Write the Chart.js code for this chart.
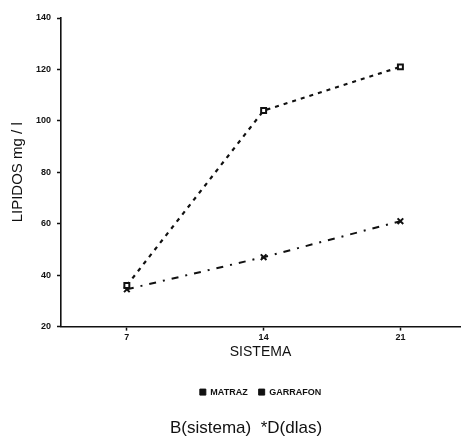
<!DOCTYPE html>
<html>
<head>
<meta charset="utf-8">
<script src="https://cdn.jsdelivr.net/npm/chart.js@4/dist/chart.umd.min.js"></script>
<style>
  html, body { margin: 0; padding: 0; background: #ffffff; }
  #wrap { position: relative; width: 467px; height: 440px; }
</style>
</head>
<body>
<div id="wrap"><canvas id="c" width="467" height="440"></canvas></div>
<script>
const dias = [7, 14, 21];
const matraz = [36, 104, 121];
const garrafon = [34.5, 47, 61];
const yTicks = [20, 40, 60, 80, 100, 120, 140];
const seriesNames = ['MATRAZ', 'GARRAFON'];
const xTitle = 'SISTEMA';
const yTitle = 'LIPIDOS mg / l';
const caption = 'B(sistema)  *D(dlas)';

const ink = '#111111';

new Chart(document.getElementById('c'), {
  type: 'line',
  data: {
    datasets: [
      {
        label: seriesNames[0],
        data: dias.map((d, i) => ({ x: d, y: matraz[i] })),
        borderColor: ink,
        backgroundColor: '#ffffff',
        borderWidth: 2.2,
        borderDash: [4, 5],
        pointStyle: 'rect',
        pointRadius: 3.5,
        pointBorderWidth: 2,
        pointBorderColor: ink,
        pointBackgroundColor: '#ffffff',
        tension: 0
      },
      {
        label: seriesNames[1],
        data: dias.map((d, i) => ({ x: d, y: garrafon[i] })),
        borderColor: ink,
        backgroundColor: '#ffffff',
        borderWidth: 2,
        borderDash: [7, 7, 2, 7],
        pointStyle: 'crossRot',
        pointRadius: 4,
        pointBorderWidth: 2,
        pointBorderColor: ink,
        tension: 0
      }
    ]
  },
  options: {
    responsive: false,
    animation: false,
    devicePixelRatio: 1,
    layout: { padding: { left: 32, right: 7, top: 18, bottom: 1 } },
    scales: {
      x: {
        type: 'linear',
        min: 3.63,
        max: 24.05,
        afterBuildTicks: (s) => { s.ticks = dias.map(v => ({ value: v })); },
        afterFit: (s) => { s.height = 50; },
        grid: { display: true, drawOnChartArea: false, drawTicks: true, tickLength: 4, tickColor: ink, tickWidth: 1.5 },
        border: { display: true, color: ink, width: 1.6 },
        ticks: { color: ink, padding: 2, font: { family: 'Liberation Sans, Arial', size: 9, weight: 'bold' } },
        title: {
          display: true, text: xTitle, color: ink,
          font: { family: 'Liberation Sans, Arial', size: 14 },
          padding: { top: 0, bottom: 15.6 }
        }
      },
      y: {
        min: 20,
        max: 140,
        afterBuildTicks: (s) => { s.ticks = yTicks.map(v => ({ value: v })); },
        afterFit: (s) => { s.width = 29; },
        grid: { display: true, drawOnChartArea: false, drawTicks: true, tickLength: 4, tickColor: ink, tickWidth: 1.5 },
        border: { display: true, color: ink, width: 1.6 },
        ticks: { color: ink, padding: 6, font: { family: 'Liberation Sans, Arial', size: 9, weight: 'bold' } },
        title: {
          display: true, text: yTitle, color: ink,
          font: { family: 'Liberation Sans, Arial', size: 15 },
          padding: { top: -23, bottom: 0 }
        }
      }
    },
    plugins: {
      legend: {
        position: 'bottom',
        fullSize: false,
        labels: {
          color: ink,
          usePointStyle: true,
          pointStyle: 'rect',
          boxWidth: 6,
          boxHeight: 6,
          padding: 11,
          font: { family: 'Liberation Sans Narrow, Liberation Sans, Arial', size: 9, weight: 'bold' },
          generateLabels: (chart) => {
            const items = Chart.defaults.plugins.legend.labels.generateLabels(chart);
            items.forEach(it => { it.fillStyle = ink; it.strokeStyle = ink; it.lineDash = []; it.lineWidth = 1; });
            return items;
          }
        }
      },
      subtitle: {
        display: true,
        position: 'bottom',
        text: caption,
        color: ink,
        font: { family: 'Liberation Sans, Arial', size: 17 },
        padding: { top: 12, bottom: 0 }
      },
      tooltip: { enabled: false }
    }
  }
});
</script>
</body>
</html>
